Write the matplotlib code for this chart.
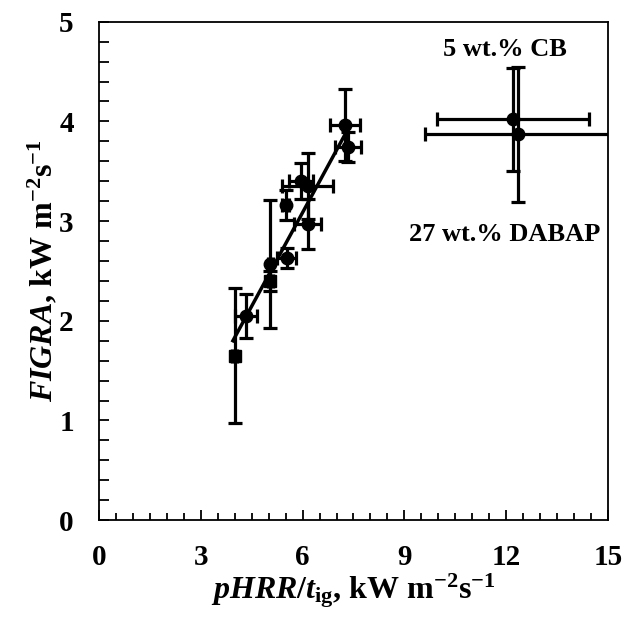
import matplotlib
matplotlib.use("Agg")
import matplotlib.pyplot as plt
from matplotlib.ticker import MultipleLocator

plt.rcParams['font.family'] = ['Liberation Serif', 'DejaVu Serif']
plt.rcParams['font.weight'] = 'bold'
plt.rcParams['mathtext.fontset'] = 'custom'
plt.rcParams['mathtext.rm'] = 'Liberation Serif:bold'
plt.rcParams['mathtext.bf'] = 'Liberation Serif:bold'
plt.rcParams['mathtext.it'] = 'Liberation Serif:italic:bold'

# main group (x, y, x error, y error)
x_main = [4.0, 4.33, 5.05, 5.05, 5.53, 5.5, 5.95, 6.15, 6.15, 7.25, 7.35]
y_main = [1.65, 2.05, 2.57, 2.40, 2.63, 3.16, 3.40, 3.35, 2.97, 3.96, 3.74]
xerr_main = [0.08, 0.32, 0.08, 0.08, 0.28, 0.1, 0.35, 0.75, 0.4, 0.45, 0.38]
yerr_main = [0.68, 0.22, 0.64, 0.1, 0.1, 0.15, 0.18, 0.33, 0.25, 0.36, 0.15]
markers_main = ['s', 'o', 'o', 's', 'o', 'o', 'o', 'o', 'o', 'o', 'o']

# trend line end points
fit_x = [3.95, 7.3]
fit_y = [1.80, 3.90]

# outliers
x_out = [12.2, 12.35]
y_out = [4.02, 3.87]
xerr_out = [2.24, 2.75]
yerr_out = [0.52, 0.68]
labels_out = ['5 wt.% CB', '27 wt.% DABAP']
label_pos = [(11.95, 4.72), (11.95, 2.87)]

fig = plt.figure(figsize=(6.29, 6.2), dpi=100)
ax = fig.add_axes([0.157, 0.161, 0.81, 0.804])

ax.plot(fit_x, fit_y, color='black', lw=2.5, zorder=2)

for i in range(len(x_main)):
    ax.errorbar(x_main[i], y_main[i], xerr=xerr_main[i], yerr=yerr_main[i],
                fmt=markers_main[i], color='black', ms=9, elinewidth=2.3,
                capsize=5, capthick=2.3, zorder=3)

for i in range(len(x_out)):
    ax.errorbar(x_out[i], y_out[i], xerr=xerr_out[i], yerr=yerr_out[i],
                fmt='o', color='black', ms=9, elinewidth=2.3,
                capsize=5, capthick=2.3, zorder=3)
    ax.text(label_pos[i][0], label_pos[i][1], labels_out[i], ha='center', va='center',
            fontsize=19, fontweight='bold')

ax.set_xlim(0, 15)
ax.set_ylim(0, 5)
ax.xaxis.set_major_locator(MultipleLocator(3))
ax.xaxis.set_minor_locator(MultipleLocator(0.5))
ax.yaxis.set_major_locator(MultipleLocator(1))
ax.yaxis.set_minor_locator(MultipleLocator(0.2))
ax.tick_params(which='major', direction='in', length=7, width=1.3, labelsize=21, pad=18)
ax.tick_params(axis='x', which='major', pad=17)
ax.tick_params(which='minor', direction='in', length=5, width=1.3)
ax.tick_params(axis='y', which='minor', length=7)
for lab in ax.get_xticklabels() + ax.get_yticklabels():
    lab.set_fontweight('bold')
for s in ax.spines.values():
    s.set_linewidth(1.3)

ax.set_xlabel(r'$\mathit{pHRR}/\mathit{t}_{\mathrm{ig}}$, kW m$^{-2}$s$^{-1}$',
              fontsize=23, fontweight='bold', labelpad=0)
ax.set_ylabel(r'$\mathit{FIGRA}$, kW m$^{-2}$s$^{-1}$',
              fontsize=23, fontweight='bold', labelpad=0)

fig.savefig('out.png', dpi=100)
